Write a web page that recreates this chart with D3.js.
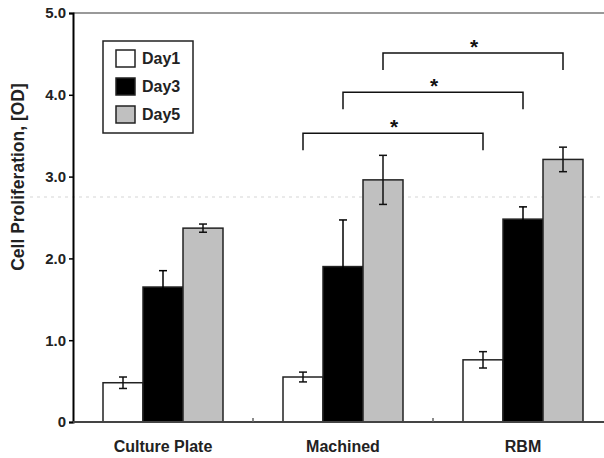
<!DOCTYPE html>
<html>
<head>
<meta charset="utf-8">
<script src="https://cdn.jsdelivr.net/npm/d3@7"></script>
<style>
  body { margin: 0; background: #fff; }
  svg { display: block; font-family: "Liberation Sans", Arial, sans-serif; }
</style>
</head>
<body>
<svg id="chart" width="604" height="458"></svg>
<script>
// chart data
var groups = ["Culture Plate", "Machined", "RBM"];
var days = ["Day1", "Day3", "Day5"];
var means = [
    [0.48, 1.65, 2.37],   // Culture Plate
    [0.55, 1.90, 2.96],   // Machined
    [0.76, 2.48, 3.21]    // RBM
];
var errors = [
    [0.07, 0.20, 0.05],
    [0.06, 0.57, 0.30],
    [0.10, 0.15, 0.15]
];
var yTicks = [0, 1, 2, 3, 4, 5];
// significance brackets: group pair, day, bracket height (OD)
var brackets = [
    { from: "Machined", to: "RBM", day: "Day1", level: 3.53 },
    { from: "Machined", to: "RBM", day: "Day3", level: 4.03 },
    { from: "Machined", to: "RBM", day: "Day5", level: 4.51 }
];

var colors = { Day1: "#ffffff", Day3: "#000000", Day5: "#c0c0c0" };

var svg = d3.select("#chart");
var plotLeft = 73, plotTop = 13, plotBottom = 422, plotRight = 613;

var x0 = d3.scaleBand()
    .domain(groups)
    .range([plotLeft, plotRight])
    .paddingInner(1 / 3)
    .paddingOuter(1 / 6);

var x1 = d3.scaleBand()
    .domain(days)
    .range([0, x0.bandwidth()]);

var y = d3.scaleLinear()
    .domain([0, 5])
    .range([plotBottom, plotTop]);

// faint scan line across the plot
svg.append("line")
    .attr("x1", 30).attr("x2", 604)
    .attr("y1", y(2.75)).attr("y2", y(2.75))
    .style("stroke", "#e4e4e4")
    .style("stroke-width", 1.5)
    .style("stroke-dasharray", "3,4");

// top frame line
svg.append("line")
    .attr("x1", plotLeft).attr("x2", 604)
    .attr("y1", plotTop).attr("y2", plotTop)
    .style("stroke", "#777")
    .style("stroke-width", 1.5);

// bars
var rows = [];
groups.forEach(function(g, gi) {
    days.forEach(function(d, di) {
        rows.push({ group: g, day: d, value: means[gi][di], err: errors[gi][di] });
    });
});

svg.selectAll(".bar")
    .data(rows)
    .enter().append("rect")
    .attr("class", "bar")
    .attr("x", function(d) { return x0(d.group) + x1(d.day); })
    .attr("y", function(d) { return y(d.value); })
    .attr("width", x1.bandwidth())
    .attr("height", function(d) { return y(0) - y(d.value); })
    .style("fill", function(d) { return colors[d.day]; })
    .style("stroke", "#222")
    .style("stroke-width", 1.5);

// error bars (black, so the lower half disappears inside the black bars)
var eb = svg.selectAll(".err")
    .data(rows)
    .enter().append("g")
    .attr("class", "err")
    .attr("transform", function(d) {
        return "translate(" + (x0(d.group) + x1(d.day) + x1.bandwidth() / 2) + ",0)";
    })
    .style("stroke", function(d) { return d.day === "Day3" ? "#000" : "#111"; })
    .style("stroke-width", 1.5);

eb.append("line")
    .attr("y1", function(d) { return y(d.value + d.err); })
    .attr("y2", function(d) { return y(d.value - d.err); });
eb.append("line")
    .attr("x1", -4).attr("x2", 4)
    .attr("y1", function(d) { return y(d.value + d.err); })
    .attr("y2", function(d) { return y(d.value + d.err); });
eb.append("line")
    .attr("x1", -4).attr("x2", 4)
    .attr("y1", function(d) { return y(d.value - d.err); })
    .attr("y2", function(d) { return y(d.value - d.err); });

// y axis
var yAxis = svg.append("g")
    .attr("transform", "translate(" + plotLeft + ",0)")
    .call(d3.axisLeft(y)
        .tickValues(yTicks)
        .tickSize(4)
        .tickPadding(3)
        .tickFormat(function(d) { return d === 0 ? "0" : d3.format(".1f")(d); }));
yAxis.select(".domain").style("stroke", "#000").style("stroke-width", 2);
yAxis.selectAll(".tick line").style("stroke", "#000").style("stroke-width", 1.5);
yAxis.selectAll("text")
    .style("font-size", "15px")
    .style("font-weight", "bold")
    .style("fill", "#222")
    .style("font-family", "inherit");

// x axis line with ticks between groups
svg.append("line")
    .attr("x1", plotLeft).attr("x2", 604)
    .attr("y1", plotBottom).attr("y2", plotBottom)
    .style("stroke", "#444")
    .style("stroke-width", 2);

svg.selectAll(".xsep")
    .data(groups.slice(1))
    .enter().append("line")
    .attr("class", "xsep")
    .attr("x1", function(d) { return x0(d) - x0.step() * x0.paddingInner() / 2; })
    .attr("x2", function(d) { return x0(d) - x0.step() * x0.paddingInner() / 2; })
    .attr("y1", plotBottom).attr("y2", plotBottom - 4)
    .style("stroke", "#666")
    .style("stroke-width", 1.5);

svg.selectAll(".xlabel")
    .data(groups)
    .enter().append("text")
    .attr("class", "xlabel")
    .attr("x", function(d) { return x0(d) + x0.bandwidth() / 2; })
    .attr("y", 452)
    .attr("text-anchor", "middle")
    .style("font-size", "16px")
    .style("font-weight", "bold")
    .style("fill", "#222")
    .text(function(d) { return d; });

// y axis title
svg.append("text")
    .attr("transform", "translate(24,177) rotate(-90)")
    .attr("text-anchor", "middle")
    .style("font-size", "17.5px")
    .style("font-weight", "bold")
    .style("fill", "#222")
    .text("Cell Proliferation, [OD]");

// significance brackets
var br = svg.selectAll(".bracket")
    .data(brackets)
    .enter().append("g")
    .attr("class", "bracket");

br.append("path")
    .attr("d", function(d) {
        var xa = x0(d.from) + x1(d.day) + x1.bandwidth() / 2;
        var xb = x0(d.to) + x1(d.day) + x1.bandwidth() / 2;
        var yl = y(d.level);
        return "M" + xa + "," + (yl + 17) + "V" + yl + "H" + xb + "V" + (yl + 17);
    })
    .style("fill", "none")
    .style("stroke", "#111")
    .style("stroke-width", 1.5);

br.append("text")
    .attr("x", function(d) {
        return (x0(d.from) + x0(d.to)) / 2 + x1(d.day) + x1.bandwidth() / 2 + 1;
    })
    .attr("y", function(d) { return y(d.level) + 1; })
    .attr("text-anchor", "middle")
    .style("font-size", "21px")
    .style("font-weight", "bold")
    .style("fill", "#111")
    .text("*");

// legend
var legend = svg.append("g")
    .attr("transform", "translate(103,41)");

legend.append("rect")
    .attr("width", 90)
    .attr("height", 92)
    .style("fill", "#fff")
    .style("stroke", "#222")
    .style("stroke-width", 1.5);

var li = legend.selectAll(".li")
    .data(days)
    .enter().append("g")
    .attr("class", "li")
    .attr("transform", function(d, i) { return "translate(13," + (9 + i * 28) + ")"; });

li.append("rect")
    .attr("width", 19)
    .attr("height", 17)
    .style("fill", function(d) { return colors[d]; })
    .style("stroke", "#222")
    .style("stroke-width", 1.5);

li.append("text")
    .attr("x", 26)
    .attr("y", 14)
    .style("font-size", "16px")
    .style("font-weight", "bold")
    .style("fill", "#222")
    .text(function(d) { return d; });
</script>
</body>
</html>
